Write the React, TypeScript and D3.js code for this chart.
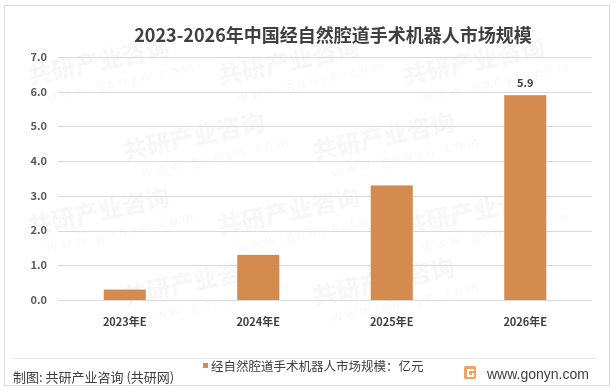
import React, { useEffect, useRef } from 'react';
import * as d3 from 'd3';

const categories = ['2023年E', '2024年E', '2025年E', '2026年E'];
const values = [0.3, 1.3, 3.3, 5.9];
const yTicks = [0, 1, 2, 3, 4, 5, 6, 7];
const labelled = ['2026年E'];

const title = '2023-2026年中国经自然腔道手术机器人市场规模';
const seriesName = '经自然腔道手术机器人市场规模：亿元';
const sourceText = '制图: 共研产业咨询 (共研网)';
const siteText = 'www.gonyn.com';

const W = 614;
const H = 390;
const barColor = '#D48B4D';
const font = '"Noto Sans CJK SC", "Noto Sans", sans-serif';

const App: React.FC = () => {
  const ref = useRef<SVGSVGElement>(null);

  useEffect(() => {
    const svg = d3.select(ref.current);
    svg.selectAll('*').remove();

    /* ---------- frame ---------- */
    svg.append('rect').attr('width', W).attr('height', H).attr('fill', '#fff');
    svg
      .append('rect')
      .attr('x', 4.5)
      .attr('y', 5.5)
      .attr('width', 605)
      .attr('height', 380)
      .attr('fill', 'none')
      .attr('stroke', '#d9d9d9');

    /* ---------- watermark (kept inside the frame) ---------- */
    const wm = svg.append('g').attr('opacity', 0.035).style('font-family', font);
    const rows = [85, 160, 235, 305];
    rows.forEach((wy, r) => {
      const cols = r % 2 === 0 ? [30, 220, 405] : [125, 315];
      cols.forEach(wx => {
        const g = wm.append('g').attr('transform', `translate(${wx},${wy}) rotate(-12)`);
        g.append('text')
          .attr('font-size', 24)
          .attr('font-weight', 900)
          .attr('fill', '#000')
          .text('共研产业咨询');
        g.append('text')
          .attr('y', 20)
          .attr('x', 14)
          .attr('font-size', 13)
          .attr('letter-spacing', 4)
          .attr('fill', '#000')
          .text('www.gonyn.com');
      });
    });

    /* ---------- scales ---------- */
    const x = d3
      .scaleBand<string>()
      .domain(categories)
      .range([58, 592])
      .paddingInner(0.685)
      .paddingOuter(0.3425);
    const y = d3.scaleLinear().domain([0, 7]).range([300, 57]);

    /* ---------- title ---------- */
    svg
      .append('text')
      .attr('x', 333)
      .attr('y', 42)
      .attr('text-anchor', 'middle')
      .style('font-family', font)
      .style('font-size', '18px')
      .style('font-weight', 700)
      .attr('fill', '#404040')
      .text(title);

    /* ---------- grid + y labels ---------- */
    svg
      .selectAll('line.grid')
      .data(yTicks)
      .enter()
      .append('line')
      .attr('class', 'grid')
      .attr('x1', 58)
      .attr('x2', 592)
      .attr('y1', d => Math.round(y(d)) + 0.5)
      .attr('y2', d => Math.round(y(d)) + 0.5)
      .attr('stroke', '#d9d9d9');

    svg
      .selectAll('text.ytick')
      .data(yTicks)
      .enter()
      .append('text')
      .attr('class', 'ytick')
      .attr('x', 47)
      .attr('y', d => y(d))
      .attr('dy', '0.35em')
      .attr('text-anchor', 'end')
      .style('font-family', font)
      .style('font-size', '11px')
      .style('font-weight', 700)
      .attr('fill', '#595959')
      .text(d => d.toFixed(1));

    /* ---------- bars ---------- */
    const data = categories.map((c, i) => ({ c, v: values[i] }));
    svg
      .selectAll('rect.bar')
      .data(data)
      .enter()
      .append('rect')
      .attr('class', 'bar')
      .attr('x', d => x(d.c)!)
      .attr('y', d => y(d.v))
      .attr('width', x.bandwidth())
      .attr('height', d => y(0) - y(d.v))
      .attr('fill', barColor);

    svg
      .selectAll('text.val')
      .data(data.filter(d => labelled.includes(d.c)))
      .enter()
      .append('text')
      .attr('class', 'val')
      .attr('x', d => x(d.c)! + x.bandwidth() / 2)
      .attr('y', d => y(d.v) - 8)
      .attr('text-anchor', 'middle')
      .style('font-family', font)
      .style('font-size', '11px')
      .style('font-weight', 700)
      .attr('fill', '#404040')
      .text(d => d.v.toFixed(1));

    /* ---------- x labels ---------- */
    svg
      .selectAll('text.xtick')
      .data(categories)
      .enter()
      .append('text')
      .attr('class', 'xtick')
      .attr('x', d => x(d)! + x.bandwidth() / 2)
      .attr('y', 326)
      .attr('text-anchor', 'middle')
      .style('font-family', font)
      .style('font-size', '11px')
      .style('font-weight', 700)
      .attr('fill', '#404040')
      .text(d => d);

    /* ---------- footer ---------- */
    svg
      .append('line')
      .attr('x1', 12)
      .attr('x2', 597)
      .attr('y1', 358.5)
      .attr('y2', 358.5)
      .attr('stroke', '#e6e6e6');

    svg
      .append('text')
      .attr('x', 13)
      .attr('y', 382)
      .style('font-family', font)
      .style('font-size', '13px')
      .attr('fill', '#404040')
      .text(sourceText);

    svg
      .append('rect')
      .attr('x', 203)
      .attr('y', 363)
      .attr('width', 5)
      .attr('height', 5)
      .attr('fill', barColor);
    svg
      .append('text')
      .attr('x', 211)
      .attr('y', 371)
      .style('font-family', font)
      .style('font-size', '12.5px')
      .attr('fill', '#404040')
      .text(seriesName);

    // logo
    const logo = svg.append('g').attr('transform', 'translate(464,366)');
    logo.append('rect').attr('width', 12).attr('height', 13).attr('rx', 1.5).attr('fill', '#F0A35E');
    logo
      .append('path')
      .attr('d', 'M3 3 H10 V5 H5 V9 H8 V7 H10 V11 H3 Z')
      .attr('fill', '#fff');
    svg
      .append('text')
      .attr('x', 487)
      .attr('y', 379)
      .style('font-family', '"Liberation Sans", Arial, sans-serif')
      .style('font-size', '14px')
      .attr('fill', '#404040')
      .text(siteText);
  }, []);

  return (
    <svg
      ref={ref}
      width={W}
      height={H}
      style={{ position: 'absolute', left: 0, top: 0, display: 'block' }}
    />
  );
};

export default App;
